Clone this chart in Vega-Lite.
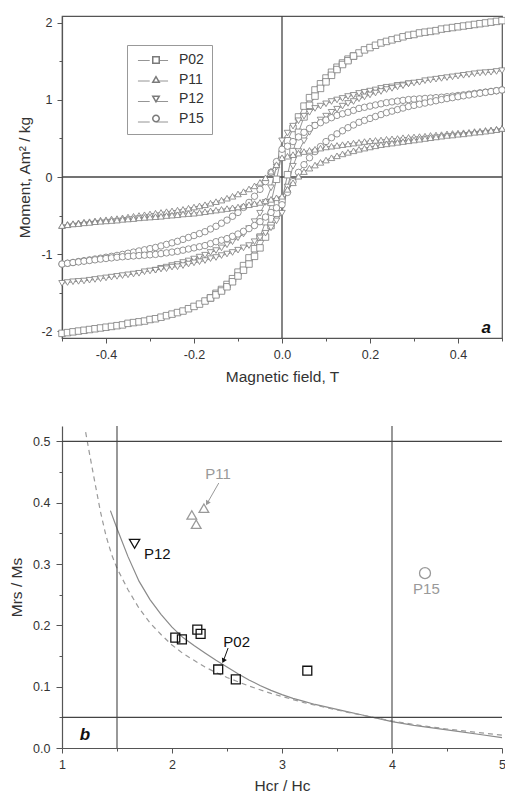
{
"$schema": "https://vega.github.io/schema/vega-lite/v6.json",
"padding": {"left": 9, "top": 14, "right": 0, "bottom": 0},
"config": {
  "font": "Liberation Sans",
  "locale": {"number": {"decimal": ".", "thousands": ",", "grouping": [3], "currency": ["$", ""], "minus": "-"}},
  "view": {"stroke": null},
  "axis": {"grid": false, "labelFlush": false, "domainColor": "#555", "tickColor": "#555", "labelColor": "#333", "titleColor": "#333", "labelFontSize": 12.5, "titleFontSize": 15.5, "titleFontWeight": "normal", "labelFont": "Liberation Sans", "titleFont": "Liberation Sans", "tickSize": 5, "domainWidth": 1.2, "tickWidth": 1}
},
"datasets": {
"hyst": [
{"s":"P02","b":"u","x":-0.5,"y":-2.03},{"s":"P02","b":"u","x":-0.4875,"y":-2.02},{"s":"P02","b":"u","x":-0.475,"y":-2.01},{"s":"P02","b":"u","x":-0.4625,"y":-2.0},{"s":"P02","b":"u","x":-0.45,"y":-1.99},{"s":"P02","b":"u","x":-0.4375,"y":-1.98},{"s":"P02","b":"u","x":-0.425,"y":-1.97},{"s":"P02","b":"u","x":-0.4125,"y":-1.96},{"s":"P02","b":"u","x":-0.4,"y":-1.95},{"s":"P02","b":"u","x":-0.3875,"y":-1.94},{"s":"P02","b":"u","x":-0.375,"y":-1.93},{"s":"P02","b":"u","x":-0.3625,"y":-1.92},{"s":"P02","b":"u","x":-0.35,"y":-1.9},{"s":"P02","b":"u","x":-0.3375,"y":-1.89},{"s":"P02","b":"u","x":-0.325,"y":-1.88},{"s":"P02","b":"u","x":-0.3125,"y":-1.87},{"s":"P02","b":"u","x":-0.3,"y":-1.85},{"s":"P02","b":"u","x":-0.2875,"y":-1.84},{"s":"P02","b":"u","x":-0.275,"y":-1.82},{"s":"P02","b":"u","x":-0.2625,"y":-1.8},{"s":"P02","b":"u","x":-0.25,"y":-1.78},{"s":"P02","b":"u","x":-0.2375,"y":-1.76},{"s":"P02","b":"u","x":-0.225,"y":-1.74},{"s":"P02","b":"u","x":-0.2125,"y":-1.71},{"s":"P02","b":"u","x":-0.2,"y":-1.68},{"s":"P02","b":"u","x":-0.1875,"y":-1.65},{"s":"P02","b":"u","x":-0.175,"y":-1.61},{"s":"P02","b":"u","x":-0.1625,"y":-1.57},{"s":"P02","b":"u","x":-0.15,"y":-1.51},{"s":"P02","b":"u","x":-0.1375,"y":-1.46},{"s":"P02","b":"u","x":-0.125,"y":-1.395},{"s":"P02","b":"u","x":-0.1125,"y":-1.32},{"s":"P02","b":"u","x":-0.1,"y":-1.235},{"s":"P02","b":"u","x":-0.0875,"y":-1.15},{"s":"P02","b":"u","x":-0.075,"y":-1.05},{"s":"P02","b":"u","x":-0.0625,"y":-0.93},{"s":"P02","b":"u","x":-0.05,"y":-0.78},{"s":"P02","b":"u","x":-0.0375,"y":-0.58},{"s":"P02","b":"u","x":-0.025,"y":-0.33},{"s":"P02","b":"u","x":-0.0125,"y":-0.03},{"s":"P02","b":"u","x":0,"y":0.3},{"s":"P02","b":"u","x":0.0125,"y":0.47},{"s":"P02","b":"u","x":0.025,"y":0.63},{"s":"P02","b":"u","x":0.0375,"y":0.78},{"s":"P02","b":"u","x":0.05,"y":0.92},{"s":"P02","b":"u","x":0.0625,"y":1.03},{"s":"P02","b":"u","x":0.075,"y":1.13},{"s":"P02","b":"u","x":0.0875,"y":1.21},{"s":"P02","b":"u","x":0.1,"y":1.285},{"s":"P02","b":"u","x":0.1125,"y":1.36},{"s":"P02","b":"u","x":0.125,"y":1.425},{"s":"P02","b":"u","x":0.1375,"y":1.48},{"s":"P02","b":"u","x":0.15,"y":1.53},{"s":"P02","b":"u","x":0.1625,"y":1.57},{"s":"P02","b":"u","x":0.175,"y":1.61},{"s":"P02","b":"u","x":0.1875,"y":1.65},{"s":"P02","b":"u","x":0.2,"y":1.68},{"s":"P02","b":"u","x":0.2125,"y":1.71},{"s":"P02","b":"u","x":0.225,"y":1.74},{"s":"P02","b":"u","x":0.2375,"y":1.76},{"s":"P02","b":"u","x":0.25,"y":1.78},{"s":"P02","b":"u","x":0.2625,"y":1.8},{"s":"P02","b":"u","x":0.275,"y":1.82},{"s":"P02","b":"u","x":0.2875,"y":1.84},{"s":"P02","b":"u","x":0.3,"y":1.85},{"s":"P02","b":"u","x":0.3125,"y":1.87},{"s":"P02","b":"u","x":0.325,"y":1.88},{"s":"P02","b":"u","x":0.3375,"y":1.89},{"s":"P02","b":"u","x":0.35,"y":1.9},{"s":"P02","b":"u","x":0.3625,"y":1.92},{"s":"P02","b":"u","x":0.375,"y":1.93},{"s":"P02","b":"u","x":0.3875,"y":1.94},{"s":"P02","b":"u","x":0.4,"y":1.95},{"s":"P02","b":"u","x":0.4125,"y":1.96},{"s":"P02","b":"u","x":0.425,"y":1.97},{"s":"P02","b":"u","x":0.4375,"y":1.98},{"s":"P02","b":"u","x":0.45,"y":1.99},{"s":"P02","b":"u","x":0.4625,"y":2.0},{"s":"P02","b":"u","x":0.475,"y":2.01},{"s":"P02","b":"u","x":0.4875,"y":2.02},{"s":"P02","b":"u","x":0.5,"y":2.03},
{"s":"P02","b":"l","x":-0.1625,"y":-1.57},{"s":"P02","b":"l","x":-0.15,"y":-1.53},{"s":"P02","b":"l","x":-0.1375,"y":-1.48},{"s":"P02","b":"l","x":-0.125,"y":-1.425},{"s":"P02","b":"l","x":-0.1125,"y":-1.36},{"s":"P02","b":"l","x":-0.1,"y":-1.285},{"s":"P02","b":"l","x":-0.0875,"y":-1.21},{"s":"P02","b":"l","x":-0.075,"y":-1.13},{"s":"P02","b":"l","x":-0.0625,"y":-1.03},{"s":"P02","b":"l","x":-0.05,"y":-0.92},{"s":"P02","b":"l","x":-0.0375,"y":-0.78},{"s":"P02","b":"l","x":-0.025,"y":-0.63},{"s":"P02","b":"l","x":-0.0125,"y":-0.47},{"s":"P02","b":"l","x":0,"y":-0.3},{"s":"P02","b":"l","x":0.0125,"y":0.03},{"s":"P02","b":"l","x":0.025,"y":0.33},{"s":"P02","b":"l","x":0.0375,"y":0.58},{"s":"P02","b":"l","x":0.05,"y":0.78},{"s":"P02","b":"l","x":0.0625,"y":0.93},{"s":"P02","b":"l","x":0.075,"y":1.05},{"s":"P02","b":"l","x":0.0875,"y":1.15},{"s":"P02","b":"l","x":0.1,"y":1.235},{"s":"P02","b":"l","x":0.1125,"y":1.32},{"s":"P02","b":"l","x":0.125,"y":1.395},{"s":"P02","b":"l","x":0.1375,"y":1.46},{"s":"P02","b":"l","x":0.15,"y":1.51},{"s":"P02","b":"l","x":0.1625,"y":1.57},
{"s":"P12","b":"u","x":-0.5,"y":-1.38},{"s":"P12","b":"u","x":-0.4875,"y":-1.37},{"s":"P12","b":"u","x":-0.475,"y":-1.36},{"s":"P12","b":"u","x":-0.4625,"y":-1.355},{"s":"P12","b":"u","x":-0.45,"y":-1.35},{"s":"P12","b":"u","x":-0.4375,"y":-1.34},{"s":"P12","b":"u","x":-0.425,"y":-1.33},{"s":"P12","b":"u","x":-0.4125,"y":-1.32},{"s":"P12","b":"u","x":-0.4,"y":-1.31},{"s":"P12","b":"u","x":-0.3875,"y":-1.3},{"s":"P12","b":"u","x":-0.375,"y":-1.29},{"s":"P12","b":"u","x":-0.3625,"y":-1.28},{"s":"P12","b":"u","x":-0.35,"y":-1.27},{"s":"P12","b":"u","x":-0.3375,"y":-1.26},{"s":"P12","b":"u","x":-0.325,"y":-1.25},{"s":"P12","b":"u","x":-0.3125,"y":-1.23},{"s":"P12","b":"u","x":-0.3,"y":-1.22},{"s":"P12","b":"u","x":-0.2875,"y":-1.21},{"s":"P12","b":"u","x":-0.275,"y":-1.185},{"s":"P12","b":"u","x":-0.2625,"y":-1.17},{"s":"P12","b":"u","x":-0.25,"y":-1.15},{"s":"P12","b":"u","x":-0.2375,"y":-1.135},{"s":"P12","b":"u","x":-0.225,"y":-1.11},{"s":"P12","b":"u","x":-0.2125,"y":-1.09},{"s":"P12","b":"u","x":-0.2,"y":-1.065},{"s":"P12","b":"u","x":-0.1875,"y":-1.04},{"s":"P12","b":"u","x":-0.175,"y":-1.015},{"s":"P12","b":"u","x":-0.1625,"y":-0.98},{"s":"P12","b":"u","x":-0.15,"y":-0.955},{"s":"P12","b":"u","x":-0.1375,"y":-0.92},{"s":"P12","b":"u","x":-0.125,"y":-0.88},{"s":"P12","b":"u","x":-0.1125,"y":-0.84},{"s":"P12","b":"u","x":-0.1,"y":-0.79},{"s":"P12","b":"u","x":-0.0875,"y":-0.74},{"s":"P12","b":"u","x":-0.075,"y":-0.67},{"s":"P12","b":"u","x":-0.0625,"y":-0.58},{"s":"P12","b":"u","x":-0.05,"y":-0.47},{"s":"P12","b":"u","x":-0.0375,"y":-0.33},{"s":"P12","b":"u","x":-0.025,"y":-0.14},{"s":"P12","b":"u","x":-0.0125,"y":0.13},{"s":"P12","b":"u","x":0,"y":0.47},{"s":"P12","b":"u","x":0.0125,"y":0.57},{"s":"P12","b":"u","x":0.025,"y":0.66},{"s":"P12","b":"u","x":0.0375,"y":0.73},{"s":"P12","b":"u","x":0.05,"y":0.79},{"s":"P12","b":"u","x":0.0625,"y":0.84},{"s":"P12","b":"u","x":0.075,"y":0.89},{"s":"P12","b":"u","x":0.0875,"y":0.92},{"s":"P12","b":"u","x":0.1,"y":0.95},{"s":"P12","b":"u","x":0.1125,"y":0.98},{"s":"P12","b":"u","x":0.125,"y":1.0},{"s":"P12","b":"u","x":0.1375,"y":1.02},{"s":"P12","b":"u","x":0.15,"y":1.045},{"s":"P12","b":"u","x":0.1625,"y":1.06},{"s":"P12","b":"u","x":0.175,"y":1.085},{"s":"P12","b":"u","x":0.1875,"y":1.1},{"s":"P12","b":"u","x":0.2,"y":1.115},{"s":"P12","b":"u","x":0.2125,"y":1.13},{"s":"P12","b":"u","x":0.225,"y":1.15},{"s":"P12","b":"u","x":0.2375,"y":1.165},{"s":"P12","b":"u","x":0.25,"y":1.17},{"s":"P12","b":"u","x":0.2625,"y":1.19},{"s":"P12","b":"u","x":0.275,"y":1.195},{"s":"P12","b":"u","x":0.2875,"y":1.21},{"s":"P12","b":"u","x":0.3,"y":1.22},{"s":"P12","b":"u","x":0.3125,"y":1.23},{"s":"P12","b":"u","x":0.325,"y":1.25},{"s":"P12","b":"u","x":0.3375,"y":1.26},{"s":"P12","b":"u","x":0.35,"y":1.27},{"s":"P12","b":"u","x":0.3625,"y":1.28},{"s":"P12","b":"u","x":0.375,"y":1.29},{"s":"P12","b":"u","x":0.3875,"y":1.3},{"s":"P12","b":"u","x":0.4,"y":1.31},{"s":"P12","b":"u","x":0.4125,"y":1.32},{"s":"P12","b":"u","x":0.425,"y":1.33},{"s":"P12","b":"u","x":0.4375,"y":1.34},{"s":"P12","b":"u","x":0.45,"y":1.35},{"s":"P12","b":"u","x":0.4625,"y":1.355},{"s":"P12","b":"u","x":0.475,"y":1.36},{"s":"P12","b":"u","x":0.4875,"y":1.37},{"s":"P12","b":"u","x":0.5,"y":1.38},
{"s":"P12","b":"l","x":-0.2875,"y":-1.21},{"s":"P12","b":"l","x":-0.275,"y":-1.195},{"s":"P12","b":"l","x":-0.2625,"y":-1.19},{"s":"P12","b":"l","x":-0.25,"y":-1.17},{"s":"P12","b":"l","x":-0.2375,"y":-1.165},{"s":"P12","b":"l","x":-0.225,"y":-1.15},{"s":"P12","b":"l","x":-0.2125,"y":-1.13},{"s":"P12","b":"l","x":-0.2,"y":-1.115},{"s":"P12","b":"l","x":-0.1875,"y":-1.1},{"s":"P12","b":"l","x":-0.175,"y":-1.085},{"s":"P12","b":"l","x":-0.1625,"y":-1.06},{"s":"P12","b":"l","x":-0.15,"y":-1.045},{"s":"P12","b":"l","x":-0.1375,"y":-1.02},{"s":"P12","b":"l","x":-0.125,"y":-1.0},{"s":"P12","b":"l","x":-0.1125,"y":-0.98},{"s":"P12","b":"l","x":-0.1,"y":-0.95},{"s":"P12","b":"l","x":-0.0875,"y":-0.92},{"s":"P12","b":"l","x":-0.075,"y":-0.89},{"s":"P12","b":"l","x":-0.0625,"y":-0.84},{"s":"P12","b":"l","x":-0.05,"y":-0.79},{"s":"P12","b":"l","x":-0.0375,"y":-0.73},{"s":"P12","b":"l","x":-0.025,"y":-0.66},{"s":"P12","b":"l","x":-0.0125,"y":-0.57},{"s":"P12","b":"l","x":0,"y":-0.47},{"s":"P12","b":"l","x":0.0125,"y":-0.13},{"s":"P12","b":"l","x":0.025,"y":0.14},{"s":"P12","b":"l","x":0.0375,"y":0.33},{"s":"P12","b":"l","x":0.05,"y":0.47},{"s":"P12","b":"l","x":0.0625,"y":0.58},{"s":"P12","b":"l","x":0.075,"y":0.67},{"s":"P12","b":"l","x":0.0875,"y":0.74},{"s":"P12","b":"l","x":0.1,"y":0.79},{"s":"P12","b":"l","x":0.1125,"y":0.84},{"s":"P12","b":"l","x":0.125,"y":0.88},{"s":"P12","b":"l","x":0.1375,"y":0.92},{"s":"P12","b":"l","x":0.15,"y":0.955},{"s":"P12","b":"l","x":0.1625,"y":0.98},{"s":"P12","b":"l","x":0.175,"y":1.015},{"s":"P12","b":"l","x":0.1875,"y":1.04},{"s":"P12","b":"l","x":0.2,"y":1.065},{"s":"P12","b":"l","x":0.2125,"y":1.09},{"s":"P12","b":"l","x":0.225,"y":1.11},{"s":"P12","b":"l","x":0.2375,"y":1.135},{"s":"P12","b":"l","x":0.25,"y":1.15},{"s":"P12","b":"l","x":0.2625,"y":1.17},{"s":"P12","b":"l","x":0.275,"y":1.185},{"s":"P12","b":"l","x":0.2875,"y":1.21},
{"s":"P15","b":"u","x":-0.5,"y":-1.13},{"s":"P15","b":"u","x":-0.4875,"y":-1.12},{"s":"P15","b":"u","x":-0.475,"y":-1.109},{"s":"P15","b":"u","x":-0.4625,"y":-1.098},{"s":"P15","b":"u","x":-0.45,"y":-1.087},{"s":"P15","b":"u","x":-0.4375,"y":-1.076},{"s":"P15","b":"u","x":-0.425,"y":-1.065},{"s":"P15","b":"u","x":-0.4125,"y":-1.054},{"s":"P15","b":"u","x":-0.4,"y":-1.042},{"s":"P15","b":"u","x":-0.3875,"y":-1.03},{"s":"P15","b":"u","x":-0.375,"y":-1.018},{"s":"P15","b":"u","x":-0.3625,"y":-1.005},{"s":"P15","b":"u","x":-0.35,"y":-0.99},{"s":"P15","b":"u","x":-0.3375,"y":-0.975},{"s":"P15","b":"u","x":-0.325,"y":-0.96},{"s":"P15","b":"u","x":-0.3125,"y":-0.945},{"s":"P15","b":"u","x":-0.3,"y":-0.93},{"s":"P15","b":"u","x":-0.2875,"y":-0.915},{"s":"P15","b":"u","x":-0.275,"y":-0.895},{"s":"P15","b":"u","x":-0.2625,"y":-0.875},{"s":"P15","b":"u","x":-0.25,"y":-0.855},{"s":"P15","b":"u","x":-0.2375,"y":-0.835},{"s":"P15","b":"u","x":-0.225,"y":-0.81},{"s":"P15","b":"u","x":-0.2125,"y":-0.785},{"s":"P15","b":"u","x":-0.2,"y":-0.76},{"s":"P15","b":"u","x":-0.1875,"y":-0.735},{"s":"P15","b":"u","x":-0.175,"y":-0.71},{"s":"P15","b":"u","x":-0.1625,"y":-0.675},{"s":"P15","b":"u","x":-0.15,"y":-0.64},{"s":"P15","b":"u","x":-0.1375,"y":-0.6},{"s":"P15","b":"u","x":-0.125,"y":-0.56},{"s":"P15","b":"u","x":-0.1125,"y":-0.51},{"s":"P15","b":"u","x":-0.1,"y":-0.46},{"s":"P15","b":"u","x":-0.0875,"y":-0.395},{"s":"P15","b":"u","x":-0.075,"y":-0.33},{"s":"P15","b":"u","x":-0.0625,"y":-0.25},{"s":"P15","b":"u","x":-0.05,"y":-0.16},{"s":"P15","b":"u","x":-0.0375,"y":-0.06},{"s":"P15","b":"u","x":-0.025,"y":0.06},{"s":"P15","b":"u","x":-0.0125,"y":0.2},{"s":"P15","b":"u","x":0,"y":0.36},{"s":"P15","b":"u","x":0.0125,"y":0.4},{"s":"P15","b":"u","x":0.025,"y":0.46},{"s":"P15","b":"u","x":0.0375,"y":0.52},{"s":"P15","b":"u","x":0.05,"y":0.58},{"s":"P15","b":"u","x":0.0625,"y":0.63},{"s":"P15","b":"u","x":0.075,"y":0.67},{"s":"P15","b":"u","x":0.0875,"y":0.705},{"s":"P15","b":"u","x":0.1,"y":0.74},{"s":"P15","b":"u","x":0.1125,"y":0.77},{"s":"P15","b":"u","x":0.125,"y":0.8},{"s":"P15","b":"u","x":0.1375,"y":0.82},{"s":"P15","b":"u","x":0.15,"y":0.84},{"s":"P15","b":"u","x":0.1625,"y":0.865},{"s":"P15","b":"u","x":0.175,"y":0.89},{"s":"P15","b":"u","x":0.1875,"y":0.905},{"s":"P15","b":"u","x":0.2,"y":0.92},{"s":"P15","b":"u","x":0.2125,"y":0.935},{"s":"P15","b":"u","x":0.225,"y":0.95},{"s":"P15","b":"u","x":0.2375,"y":0.965},{"s":"P15","b":"u","x":0.25,"y":0.975},{"s":"P15","b":"u","x":0.2625,"y":0.985},{"s":"P15","b":"u","x":0.275,"y":0.995},{"s":"P15","b":"u","x":0.2875,"y":1.005},{"s":"P15","b":"u","x":0.3,"y":1.01},{"s":"P15","b":"u","x":0.3125,"y":1.015},{"s":"P15","b":"u","x":0.325,"y":1.02},{"s":"P15","b":"u","x":0.3375,"y":1.025},{"s":"P15","b":"u","x":0.35,"y":1.03},{"s":"P15","b":"u","x":0.3625,"y":1.035},{"s":"P15","b":"u","x":0.375,"y":1.042},{"s":"P15","b":"u","x":0.3875,"y":1.05},{"s":"P15","b":"u","x":0.4,"y":1.058},{"s":"P15","b":"u","x":0.4125,"y":1.066},{"s":"P15","b":"u","x":0.425,"y":1.075},{"s":"P15","b":"u","x":0.4375,"y":1.084},{"s":"P15","b":"u","x":0.45,"y":1.093},{"s":"P15","b":"u","x":0.4625,"y":1.102},{"s":"P15","b":"u","x":0.475,"y":1.111},{"s":"P15","b":"u","x":0.4875,"y":1.12},{"s":"P15","b":"u","x":0.5,"y":1.13},
{"s":"P15","b":"l","x":-0.5,"y":-1.13},{"s":"P15","b":"l","x":-0.4875,"y":-1.12},{"s":"P15","b":"l","x":-0.475,"y":-1.111},{"s":"P15","b":"l","x":-0.4625,"y":-1.102},{"s":"P15","b":"l","x":-0.45,"y":-1.093},{"s":"P15","b":"l","x":-0.4375,"y":-1.084},{"s":"P15","b":"l","x":-0.425,"y":-1.075},{"s":"P15","b":"l","x":-0.4125,"y":-1.066},{"s":"P15","b":"l","x":-0.4,"y":-1.058},{"s":"P15","b":"l","x":-0.3875,"y":-1.05},{"s":"P15","b":"l","x":-0.375,"y":-1.042},{"s":"P15","b":"l","x":-0.3625,"y":-1.035},{"s":"P15","b":"l","x":-0.35,"y":-1.03},{"s":"P15","b":"l","x":-0.3375,"y":-1.025},{"s":"P15","b":"l","x":-0.325,"y":-1.02},{"s":"P15","b":"l","x":-0.3125,"y":-1.015},{"s":"P15","b":"l","x":-0.3,"y":-1.01},{"s":"P15","b":"l","x":-0.2875,"y":-1.005},{"s":"P15","b":"l","x":-0.275,"y":-0.995},{"s":"P15","b":"l","x":-0.2625,"y":-0.985},{"s":"P15","b":"l","x":-0.25,"y":-0.975},{"s":"P15","b":"l","x":-0.2375,"y":-0.965},{"s":"P15","b":"l","x":-0.225,"y":-0.95},{"s":"P15","b":"l","x":-0.2125,"y":-0.935},{"s":"P15","b":"l","x":-0.2,"y":-0.92},{"s":"P15","b":"l","x":-0.1875,"y":-0.905},{"s":"P15","b":"l","x":-0.175,"y":-0.89},{"s":"P15","b":"l","x":-0.1625,"y":-0.865},{"s":"P15","b":"l","x":-0.15,"y":-0.84},{"s":"P15","b":"l","x":-0.1375,"y":-0.82},{"s":"P15","b":"l","x":-0.125,"y":-0.8},{"s":"P15","b":"l","x":-0.1125,"y":-0.77},{"s":"P15","b":"l","x":-0.1,"y":-0.74},{"s":"P15","b":"l","x":-0.0875,"y":-0.705},{"s":"P15","b":"l","x":-0.075,"y":-0.67},{"s":"P15","b":"l","x":-0.0625,"y":-0.63},{"s":"P15","b":"l","x":-0.05,"y":-0.58},{"s":"P15","b":"l","x":-0.0375,"y":-0.52},{"s":"P15","b":"l","x":-0.025,"y":-0.46},{"s":"P15","b":"l","x":-0.0125,"y":-0.4},{"s":"P15","b":"l","x":0,"y":-0.36},{"s":"P15","b":"l","x":0.0125,"y":-0.2},{"s":"P15","b":"l","x":0.025,"y":-0.06},{"s":"P15","b":"l","x":0.0375,"y":0.06},{"s":"P15","b":"l","x":0.05,"y":0.16},{"s":"P15","b":"l","x":0.0625,"y":0.25},{"s":"P15","b":"l","x":0.075,"y":0.33},{"s":"P15","b":"l","x":0.0875,"y":0.395},{"s":"P15","b":"l","x":0.1,"y":0.46},{"s":"P15","b":"l","x":0.1125,"y":0.51},{"s":"P15","b":"l","x":0.125,"y":0.56},{"s":"P15","b":"l","x":0.1375,"y":0.6},{"s":"P15","b":"l","x":0.15,"y":0.64},{"s":"P15","b":"l","x":0.1625,"y":0.675},{"s":"P15","b":"l","x":0.175,"y":0.71},{"s":"P15","b":"l","x":0.1875,"y":0.735},{"s":"P15","b":"l","x":0.2,"y":0.76},{"s":"P15","b":"l","x":0.2125,"y":0.785},{"s":"P15","b":"l","x":0.225,"y":0.81},{"s":"P15","b":"l","x":0.2375,"y":0.835},{"s":"P15","b":"l","x":0.25,"y":0.855},{"s":"P15","b":"l","x":0.2625,"y":0.875},{"s":"P15","b":"l","x":0.275,"y":0.895},{"s":"P15","b":"l","x":0.2875,"y":0.915},{"s":"P15","b":"l","x":0.3,"y":0.93},{"s":"P15","b":"l","x":0.3125,"y":0.945},{"s":"P15","b":"l","x":0.325,"y":0.96},{"s":"P15","b":"l","x":0.3375,"y":0.975},{"s":"P15","b":"l","x":0.35,"y":0.99},{"s":"P15","b":"l","x":0.3625,"y":1.005},{"s":"P15","b":"l","x":0.375,"y":1.018},{"s":"P15","b":"l","x":0.3875,"y":1.03},{"s":"P15","b":"l","x":0.4,"y":1.042},{"s":"P15","b":"l","x":0.4125,"y":1.054},{"s":"P15","b":"l","x":0.425,"y":1.065},{"s":"P15","b":"l","x":0.4375,"y":1.076},{"s":"P15","b":"l","x":0.45,"y":1.087},{"s":"P15","b":"l","x":0.4625,"y":1.098},{"s":"P15","b":"l","x":0.475,"y":1.109},{"s":"P15","b":"l","x":0.4875,"y":1.12},{"s":"P15","b":"l","x":0.5,"y":1.13},
{"s":"P11","b":"u","x":-0.5,"y":-0.63},{"s":"P11","b":"u","x":-0.4875,"y":-0.615},{"s":"P11","b":"u","x":-0.475,"y":-0.605},{"s":"P11","b":"u","x":-0.4625,"y":-0.595},{"s":"P11","b":"u","x":-0.45,"y":-0.585},{"s":"P11","b":"u","x":-0.4375,"y":-0.58},{"s":"P11","b":"u","x":-0.425,"y":-0.57},{"s":"P11","b":"u","x":-0.4125,"y":-0.56},{"s":"P11","b":"u","x":-0.4,"y":-0.555},{"s":"P11","b":"u","x":-0.3875,"y":-0.545},{"s":"P11","b":"u","x":-0.375,"y":-0.54},{"s":"P11","b":"u","x":-0.3625,"y":-0.53},{"s":"P11","b":"u","x":-0.35,"y":-0.52},{"s":"P11","b":"u","x":-0.3375,"y":-0.51},{"s":"P11","b":"u","x":-0.325,"y":-0.5},{"s":"P11","b":"u","x":-0.3125,"y":-0.49},{"s":"P11","b":"u","x":-0.3,"y":-0.48},{"s":"P11","b":"u","x":-0.2875,"y":-0.47},{"s":"P11","b":"u","x":-0.275,"y":-0.46},{"s":"P11","b":"u","x":-0.2625,"y":-0.45},{"s":"P11","b":"u","x":-0.25,"y":-0.44},{"s":"P11","b":"u","x":-0.2375,"y":-0.43},{"s":"P11","b":"u","x":-0.225,"y":-0.42},{"s":"P11","b":"u","x":-0.2125,"y":-0.405},{"s":"P11","b":"u","x":-0.2,"y":-0.39},{"s":"P11","b":"u","x":-0.1875,"y":-0.375},{"s":"P11","b":"u","x":-0.175,"y":-0.36},{"s":"P11","b":"u","x":-0.1625,"y":-0.34},{"s":"P11","b":"u","x":-0.15,"y":-0.32},{"s":"P11","b":"u","x":-0.1375,"y":-0.3},{"s":"P11","b":"u","x":-0.125,"y":-0.275},{"s":"P11","b":"u","x":-0.1125,"y":-0.25},{"s":"P11","b":"u","x":-0.1,"y":-0.22},{"s":"P11","b":"u","x":-0.0875,"y":-0.19},{"s":"P11","b":"u","x":-0.075,"y":-0.155},{"s":"P11","b":"u","x":-0.0625,"y":-0.115},{"s":"P11","b":"u","x":-0.05,"y":-0.07},{"s":"P11","b":"u","x":-0.0375,"y":-0.01},{"s":"P11","b":"u","x":-0.025,"y":0.075},{"s":"P11","b":"u","x":-0.0125,"y":0.16},{"s":"P11","b":"u","x":0,"y":0.25},{"s":"P11","b":"u","x":0.0125,"y":0.27},{"s":"P11","b":"u","x":0.025,"y":0.29},{"s":"P11","b":"u","x":0.0375,"y":0.31},{"s":"P11","b":"u","x":0.05,"y":0.33},{"s":"P11","b":"u","x":0.0625,"y":0.345},{"s":"P11","b":"u","x":0.075,"y":0.36},{"s":"P11","b":"u","x":0.0875,"y":0.375},{"s":"P11","b":"u","x":0.1,"y":0.39},{"s":"P11","b":"u","x":0.1125,"y":0.4},{"s":"P11","b":"u","x":0.125,"y":0.41},{"s":"P11","b":"u","x":0.1375,"y":0.42},{"s":"P11","b":"u","x":0.15,"y":0.43},{"s":"P11","b":"u","x":0.1625,"y":0.44},{"s":"P11","b":"u","x":0.175,"y":0.45},{"s":"P11","b":"u","x":0.1875,"y":0.46},{"s":"P11","b":"u","x":0.2,"y":0.47},{"s":"P11","b":"u","x":0.2125,"y":0.475},{"s":"P11","b":"u","x":0.225,"y":0.48},{"s":"P11","b":"u","x":0.2375,"y":0.49},{"s":"P11","b":"u","x":0.25,"y":0.495},{"s":"P11","b":"u","x":0.2625,"y":0.5},{"s":"P11","b":"u","x":0.275,"y":0.51},{"s":"P11","b":"u","x":0.2875,"y":0.515},{"s":"P11","b":"u","x":0.3,"y":0.52},{"s":"P11","b":"u","x":0.3125,"y":0.525},{"s":"P11","b":"u","x":0.325,"y":0.53},{"s":"P11","b":"u","x":0.3375,"y":0.54},{"s":"P11","b":"u","x":0.35,"y":0.545},{"s":"P11","b":"u","x":0.3625,"y":0.55},{"s":"P11","b":"u","x":0.375,"y":0.56},{"s":"P11","b":"u","x":0.3875,"y":0.565},{"s":"P11","b":"u","x":0.4,"y":0.57},{"s":"P11","b":"u","x":0.4125,"y":0.575},{"s":"P11","b":"u","x":0.425,"y":0.58},{"s":"P11","b":"u","x":0.4375,"y":0.59},{"s":"P11","b":"u","x":0.45,"y":0.595},{"s":"P11","b":"u","x":0.4625,"y":0.605},{"s":"P11","b":"u","x":0.475,"y":0.61},{"s":"P11","b":"u","x":0.4875,"y":0.62},{"s":"P11","b":"u","x":0.5,"y":0.63},
{"s":"P11","b":"l","x":-0.5,"y":-0.63},{"s":"P11","b":"l","x":-0.4875,"y":-0.62},{"s":"P11","b":"l","x":-0.475,"y":-0.61},{"s":"P11","b":"l","x":-0.4625,"y":-0.605},{"s":"P11","b":"l","x":-0.45,"y":-0.595},{"s":"P11","b":"l","x":-0.4375,"y":-0.59},{"s":"P11","b":"l","x":-0.425,"y":-0.58},{"s":"P11","b":"l","x":-0.4125,"y":-0.575},{"s":"P11","b":"l","x":-0.4,"y":-0.57},{"s":"P11","b":"l","x":-0.3875,"y":-0.565},{"s":"P11","b":"l","x":-0.375,"y":-0.56},{"s":"P11","b":"l","x":-0.3625,"y":-0.55},{"s":"P11","b":"l","x":-0.35,"y":-0.545},{"s":"P11","b":"l","x":-0.3375,"y":-0.54},{"s":"P11","b":"l","x":-0.325,"y":-0.53},{"s":"P11","b":"l","x":-0.3125,"y":-0.525},{"s":"P11","b":"l","x":-0.3,"y":-0.52},{"s":"P11","b":"l","x":-0.2875,"y":-0.515},{"s":"P11","b":"l","x":-0.275,"y":-0.51},{"s":"P11","b":"l","x":-0.2625,"y":-0.5},{"s":"P11","b":"l","x":-0.25,"y":-0.495},{"s":"P11","b":"l","x":-0.2375,"y":-0.49},{"s":"P11","b":"l","x":-0.225,"y":-0.48},{"s":"P11","b":"l","x":-0.2125,"y":-0.475},{"s":"P11","b":"l","x":-0.2,"y":-0.47},{"s":"P11","b":"l","x":-0.1875,"y":-0.46},{"s":"P11","b":"l","x":-0.175,"y":-0.45},{"s":"P11","b":"l","x":-0.1625,"y":-0.44},{"s":"P11","b":"l","x":-0.15,"y":-0.43},{"s":"P11","b":"l","x":-0.1375,"y":-0.42},{"s":"P11","b":"l","x":-0.125,"y":-0.41},{"s":"P11","b":"l","x":-0.1125,"y":-0.4},{"s":"P11","b":"l","x":-0.1,"y":-0.39},{"s":"P11","b":"l","x":-0.0875,"y":-0.375},{"s":"P11","b":"l","x":-0.075,"y":-0.36},{"s":"P11","b":"l","x":-0.0625,"y":-0.345},{"s":"P11","b":"l","x":-0.05,"y":-0.33},{"s":"P11","b":"l","x":-0.0375,"y":-0.31},{"s":"P11","b":"l","x":-0.025,"y":-0.29},{"s":"P11","b":"l","x":-0.0125,"y":-0.27},{"s":"P11","b":"l","x":0,"y":-0.25},{"s":"P11","b":"l","x":0.0125,"y":-0.16},{"s":"P11","b":"l","x":0.025,"y":-0.075},{"s":"P11","b":"l","x":0.0375,"y":0.01},{"s":"P11","b":"l","x":0.05,"y":0.07},{"s":"P11","b":"l","x":0.0625,"y":0.115},{"s":"P11","b":"l","x":0.075,"y":0.155},{"s":"P11","b":"l","x":0.0875,"y":0.19},{"s":"P11","b":"l","x":0.1,"y":0.22},{"s":"P11","b":"l","x":0.1125,"y":0.25},{"s":"P11","b":"l","x":0.125,"y":0.275},{"s":"P11","b":"l","x":0.1375,"y":0.3},{"s":"P11","b":"l","x":0.15,"y":0.32},{"s":"P11","b":"l","x":0.1625,"y":0.34},{"s":"P11","b":"l","x":0.175,"y":0.36},{"s":"P11","b":"l","x":0.1875,"y":0.375},{"s":"P11","b":"l","x":0.2,"y":0.39},{"s":"P11","b":"l","x":0.2125,"y":0.405},{"s":"P11","b":"l","x":0.225,"y":0.42},{"s":"P11","b":"l","x":0.2375,"y":0.43},{"s":"P11","b":"l","x":0.25,"y":0.44},{"s":"P11","b":"l","x":0.2625,"y":0.45},{"s":"P11","b":"l","x":0.275,"y":0.46},{"s":"P11","b":"l","x":0.2875,"y":0.47},{"s":"P11","b":"l","x":0.3,"y":0.48},{"s":"P11","b":"l","x":0.3125,"y":0.49},{"s":"P11","b":"l","x":0.325,"y":0.5},{"s":"P11","b":"l","x":0.3375,"y":0.51},{"s":"P11","b":"l","x":0.35,"y":0.52},{"s":"P11","b":"l","x":0.3625,"y":0.53},{"s":"P11","b":"l","x":0.375,"y":0.54},{"s":"P11","b":"l","x":0.3875,"y":0.545},{"s":"P11","b":"l","x":0.4,"y":0.555},{"s":"P11","b":"l","x":0.4125,"y":0.56},{"s":"P11","b":"l","x":0.425,"y":0.57},{"s":"P11","b":"l","x":0.4375,"y":0.58},{"s":"P11","b":"l","x":0.45,"y":0.585},{"s":"P11","b":"l","x":0.4625,"y":0.595},{"s":"P11","b":"l","x":0.475,"y":0.605},{"s":"P11","b":"l","x":0.4875,"y":0.615},{"s":"P11","b":"l","x":0.5,"y":0.63}
],
"curves": [
{"c":"s","x":1.44,"y":0.387},{"c":"s","x":1.5,"y":0.358},{"c":"s","x":1.6,"y":0.312},{"c":"s","x":1.7,"y":0.272},{"c":"s","x":1.8,"y":0.242},{"c":"s","x":1.9,"y":0.218},{"c":"s","x":2.0,"y":0.197},{"c":"s","x":2.1,"y":0.18},{"c":"s","x":2.2,"y":0.167},{"c":"s","x":2.3,"y":0.155},{"c":"s","x":2.4,"y":0.143},{"c":"s","x":2.5,"y":0.132},{"c":"s","x":2.6,"y":0.121},{"c":"s","x":2.7,"y":0.111},{"c":"s","x":2.8,"y":0.102},{"c":"s","x":2.9,"y":0.094},{"c":"s","x":3.0,"y":0.087},{"c":"s","x":3.1,"y":0.081},{"c":"s","x":3.2,"y":0.076},{"c":"s","x":3.3,"y":0.071},{"c":"s","x":3.4,"y":0.067},{"c":"s","x":3.5,"y":0.063},{"c":"s","x":3.6,"y":0.059},{"c":"s","x":3.7,"y":0.055},{"c":"s","x":3.8,"y":0.051},{"c":"s","x":3.9,"y":0.047},{"c":"s","x":4.0,"y":0.043},{"c":"s","x":4.2,"y":0.037},{"c":"s","x":4.4,"y":0.032},{"c":"s","x":4.6,"y":0.027},{"c":"s","x":4.8,"y":0.022},{"c":"s","x":5.0,"y":0.017},
{"c":"d","x":1.215,"y":0.515},{"c":"d","x":1.25,"y":0.48},{"c":"d","x":1.3,"y":0.432},{"c":"d","x":1.35,"y":0.385},{"c":"d","x":1.4,"y":0.346},{"c":"d","x":1.45,"y":0.316},{"c":"d","x":1.5,"y":0.293},{"c":"d","x":1.6,"y":0.258},{"c":"d","x":1.7,"y":0.228},{"c":"d","x":1.8,"y":0.204},{"c":"d","x":1.9,"y":0.185},{"c":"d","x":2.0,"y":0.168},{"c":"d","x":2.1,"y":0.154},{"c":"d","x":2.2,"y":0.143},{"c":"d","x":2.3,"y":0.132},{"c":"d","x":2.4,"y":0.123},{"c":"d","x":2.5,"y":0.115},{"c":"d","x":2.6,"y":0.108},{"c":"d","x":2.7,"y":0.101},{"c":"d","x":2.8,"y":0.095},{"c":"d","x":2.9,"y":0.089},{"c":"d","x":3.0,"y":0.084},{"c":"d","x":3.2,"y":0.074},{"c":"d","x":3.4,"y":0.066},{"c":"d","x":3.6,"y":0.058},{"c":"d","x":3.8,"y":0.051},{"c":"d","x":4.0,"y":0.044},{"c":"d","x":4.25,"y":0.037},{"c":"d","x":4.5,"y":0.031},{"c":"d","x":4.75,"y":0.026},{"c":"d","x":5.0,"y":0.021}
],
"pts": [
{"s":"P02","x":2.03,"y":0.18},{"s":"P02","x":2.09,"y":0.177},{"s":"P02","x":2.23,"y":0.193},{"s":"P02","x":2.26,"y":0.186},{"s":"P02","x":2.42,"y":0.128},{"s":"P02","x":2.58,"y":0.112},{"s":"P02","x":3.23,"y":0.126},
{"s":"P11","x":2.18,"y":0.38},{"s":"P11","x":2.22,"y":0.365},{"s":"P11","x":2.29,"y":0.391},
{"s":"P12","x":1.66,"y":0.333},
{"s":"P15","x":4.3,"y":0.285}
]
},
"vconcat": [
{
 "width": 440, "height": 322,
 "view": {"stroke": "#555", "strokeWidth": 1.2},
 "resolve": {"axis": {"x": "independent", "y": "independent"}},
 "layer": [
  {"data": {"values": [{"v": 0}]}, "mark": {"type": "rule", "color": "#444", "strokeWidth": 1.3},
   "encoding": {"x": {"field": "v", "type": "quantitative", "scale": {"domain": [-0.5, 0.5], "nice": false},
     "axis": {"orient": "bottom", "values": [-0.5, -0.3, -0.1, 0.1, 0.3, 0.5], "labels": false, "tickSize": 3, "title": null, "domain": false}}}},
  {"data": {"values": [{"v": 0}]}, "mark": {"type": "rule", "color": "#444", "strokeWidth": 1.3},
   "encoding": {"y": {"field": "v", "type": "quantitative", "scale": {"domain": [-2.09, 2.09], "nice": false},
     "axis": {"orient": "left", "values": [-1.5, -0.5, 0.5, 1.5], "labels": false, "tickSize": 3, "title": null, "domain": false}}}},
  {"data": {"name": "hyst"}, "mark": {"type": "line", "strokeWidth": 0.8},
   "encoding": {
     "x": {"field": "x", "type": "quantitative", "scale": {"domain": [-0.5, 0.5], "nice": false}, "axis": null},
     "y": {"field": "y", "type": "quantitative", "scale": {"domain": [-2.09, 2.09], "nice": false}, "axis": null},
     "stroke": {"field": "s", "type": "nominal", "scale": {"range": ["#7a7a7a", "#7a7a7a", "#7a7a7a", "#7a7a7a"]},
       "legend": {"orient": "none", "legendX": 65, "legendY": 29, "title": null, "labelFontSize": 14, "labelFont": "Liberation Sans", "labelExpr": "''",
         "padding": 8, "rowPadding": 5.5, "symbolType": "M-2.15,0H-0.47M0.47,0H2.15", "symbolSize": 196, "symbolStrokeWidth": 0.8, "symbolOffset": 10.5, "zindex": 1}},
     "detail": [{"field": "s"}, {"field": "b"}]}},
  {"data": {"name": "hyst"}, "mark": {"type": "point", "filled": true, "fill": "white", "stroke": "#7a7a7a", "strokeWidth": 0.8, "size": 42, "opacity": 1},
   "encoding": {
     "x": {"field": "x", "type": "quantitative", "scale": {"domain": [-0.5, 0.5], "nice": false},
       "axis": {"orient": "bottom", "values": [-0.4, -0.2, 0, 0.2, 0.4], "format": ".1f", "tickSize": 5, "labelPadding": 5, "title": "Magnetic field, T", "titlePadding": 9}},
     "y": {"field": "y", "type": "quantitative", "scale": {"domain": [-2.09, 2.09], "nice": false},
       "axis": {"orient": "left", "values": [-2, -1, 0, 1, 2], "format": "d", "tickSize": 5, "labelPadding": 5, "title": "Moment, Am² / kg", "titlePadding": 8}},
     "shape": {"field": "s", "type": "nominal",
       "scale": {"domain": ["P02", "P11", "P12", "P15"], "range": ["square", "triangle-up", "triangle-down", "circle"]},
       "legend": {"orient": "none", "legendX": 65, "legendY": 29, "title": null, "labelFontSize": 14, "labelColor": "#333", "labelFont": "Liberation Sans",
         "strokeColor": "#999", "padding": 8, "rowPadding": 5.5, "symbolSize": 42, "symbolOffset": 14, "labelOffset": 16, "zindex": 2}}}},
  {"data": {"values": [{"t": "a", "x": 0.464, "y": -1.96}]}, "mark": {"type": "text", "fontSize": 17, "fontWeight": "bold", "fontStyle": "italic", "color": "#111"},
   "encoding": {
     "x": {"field": "x", "type": "quantitative", "scale": {"domain": [-0.5, 0.5], "nice": false}, "axis": null},
     "y": {"field": "y", "type": "quantitative", "scale": {"domain": [-2.09, 2.09], "nice": false}, "axis": null},
     "text": {"field": "t"}}}
 ]
},
{
 "width": 440, "height": 322,
 "resolve": {"axis": {"x": "independent", "y": "independent"}},
 "layer": [
  {"data": {"name": "curves"}, "transform": [{"filter": "datum.c==='s'"}], "mark": {"type": "line", "color": "#8a8a8a", "strokeWidth": 1.2},
   "encoding": {
     "x": {"field": "x", "type": "quantitative", "scale": {"domain": [1, 5], "nice": false},
       "axis": {"orient": "bottom", "values": [1, 2, 3, 4, 5], "format": "d", "tickSize": 5, "labelPadding": 5, "title": "Hcr / Hc", "titlePadding": 8}},
     "y": {"field": "y", "type": "quantitative", "scale": {"domain": [0, 0.525], "nice": false},
       "axis": {"orient": "left", "values": [0, 0.1, 0.2, 0.3, 0.4, 0.5], "format": ".1f", "tickSize": 6, "labelPadding": 6, "title": "Mrs / Ms", "titlePadding": 8}}}},
  {"data": {"name": "curves"}, "transform": [{"filter": "datum.c==='d'"}], "mark": {"type": "line", "color": "#9a9a9a", "strokeWidth": 1.2, "strokeDash": [5, 4]},
   "encoding": {
     "x": {"field": "x", "type": "quantitative", "scale": {"domain": [1, 5], "nice": false}, "axis": null},
     "y": {"field": "y", "type": "quantitative", "scale": {"domain": [0, 0.525], "nice": false}, "axis": null}}},
  {"data": {"values": [{"v": 0.5}, {"v": 0.05}]}, "mark": {"type": "rule", "color": "#444", "strokeWidth": 1.1},
   "encoding": {"y": {"field": "v", "type": "quantitative", "scale": {"domain": [0, 0.525], "nice": false},
     "axis": {"orient": "left", "values": [0.05, 0.15, 0.25, 0.35, 0.45], "labels": false, "tickSize": 3, "title": null, "domain": false}}}},
  {"data": {"values": [{"v": 1.5}, {"v": 4}]}, "mark": {"type": "rule", "color": "#444", "strokeWidth": 1.1},
   "encoding": {"x": {"field": "v", "type": "quantitative", "scale": {"domain": [1, 5], "nice": false},
     "axis": {"orient": "bottom", "values": [1.5, 2.5, 3.5, 4.5], "labels": false, "tickSize": 3, "title": null, "domain": false}}}},
  {"data": {"name": "pts"}, "mark": {"type": "point", "filled": false, "strokeWidth": 1.3, "opacity": 1},
   "encoding": {
     "x": {"field": "x", "type": "quantitative", "scale": {"domain": [1, 5], "nice": false}, "axis": null},
     "y": {"field": "y", "type": "quantitative", "scale": {"domain": [0, 0.525], "nice": false}, "axis": null},
     "shape": {"field": "s", "type": "nominal", "scale": {"domain": ["P02", "P11", "P12", "P15"], "range": ["square", "triangle-up", "triangle-down", "circle"]}, "legend": null},
     "stroke": {"field": "s", "type": "nominal", "scale": {"domain": ["P02", "P11", "P12", "P15"], "range": ["#111111", "#999999", "#111111", "#999999"]}, "legend": null},
     "size": {"field": "s", "type": "nominal", "scale": {"domain": ["P02", "P11", "P12", "P15"], "range": [80, 120, 90, 60]}, "legend": null}}},
  {"data": {"values": [{"s": "P11", "x": 2.425, "y": 0.432, "x2": 2.32, "y2": 0.399}, {"s": "P02", "x": 2.51, "y": 0.163, "x2": 2.467, "y2": 0.142}]},
   "mark": {"type": "rule", "strokeWidth": 1},
   "encoding": {
     "x": {"field": "x", "type": "quantitative", "scale": {"domain": [1, 5], "nice": false}, "axis": null},
     "y": {"field": "y", "type": "quantitative", "scale": {"domain": [0, 0.525], "nice": false}, "axis": null},
     "x2": {"field": "x2"}, "y2": {"field": "y2"},
     "stroke": {"field": "s", "type": "nominal", "scale": {"domain": ["P02", "P11", "P12", "P15"], "range": ["#111111", "#999999", "#111111", "#999999"]}, "legend": null}}},
  {"data": {"values": [{"s": "P11", "x": 2.32, "y": 0.399}]}, "mark": {"type": "point", "shape": "triangle-up", "filled": true, "size": 30, "angle": 210, "opacity": 1, "color": "#999999"},
   "encoding": {
     "x": {"field": "x", "type": "quantitative", "scale": {"domain": [1, 5], "nice": false}, "axis": null},
     "y": {"field": "y", "type": "quantitative", "scale": {"domain": [0, 0.525], "nice": false}, "axis": null}}},
  {"data": {"values": [{"s": "P02", "x": 2.467, "y": 0.142}]}, "mark": {"type": "point", "shape": "triangle-up", "filled": true, "size": 30, "angle": 205, "opacity": 1, "color": "#111111"},
   "encoding": {
     "x": {"field": "x", "type": "quantitative", "scale": {"domain": [1, 5], "nice": false}, "axis": null},
     "y": {"field": "y", "type": "quantitative", "scale": {"domain": [0, 0.525], "nice": false}, "axis": null}}},
  {"data": {"values": [{"s": "P11", "t": "P11", "x": 2.418, "y": 0.447}, {"s": "P12", "t": "P12", "x": 1.866, "y": 0.317}, {"s": "P02", "t": "P02", "x": 2.588, "y": 0.173}, {"s": "P15", "t": "P15", "x": 4.313, "y": 0.259}]},
   "mark": {"type": "text", "fontSize": 15},
   "encoding": {
     "x": {"field": "x", "type": "quantitative", "scale": {"domain": [1, 5], "nice": false}, "axis": null},
     "y": {"field": "y", "type": "quantitative", "scale": {"domain": [0, 0.525], "nice": false}, "axis": null},
     "text": {"field": "t"},
     "fill": {"field": "s", "type": "nominal", "scale": {"domain": ["P02", "P11", "P12", "P15"], "range": ["#111111", "#999999", "#111111", "#999999"]}, "legend": null}}},
  {"data": {"values": [{"t": "b", "x": 1.209, "y": 0.021}]}, "mark": {"type": "text", "fontSize": 17, "fontWeight": "bold", "fontStyle": "italic", "color": "#111"},
   "encoding": {
     "x": {"field": "x", "type": "quantitative", "scale": {"domain": [1, 5], "nice": false}, "axis": null},
     "y": {"field": "y", "type": "quantitative", "scale": {"domain": [0, 0.525], "nice": false}, "axis": null},
     "text": {"field": "t"}}}
 ]
}
],
"spacing": 88,
"bounds": "flush",
"resolve": {"scale": {"shape": "independent", "stroke": "independent", "size": "independent", "fill": "independent"}, "legend": {"shape": "independent", "stroke": "independent"}}
}
